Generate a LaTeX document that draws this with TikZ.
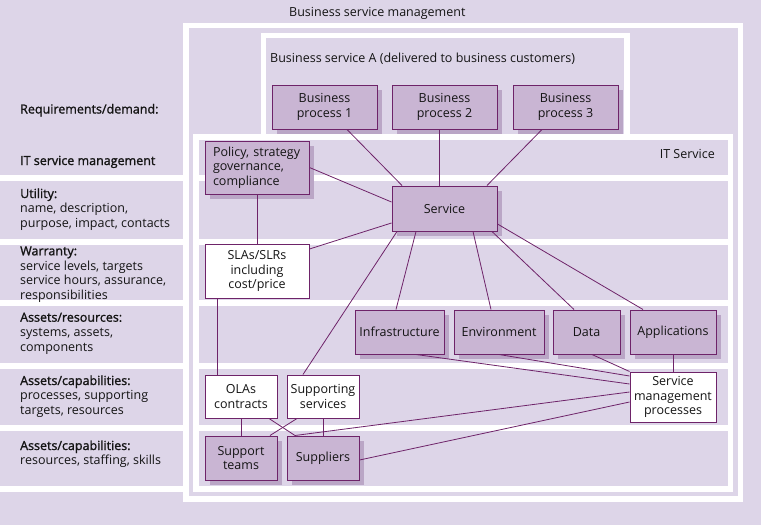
\documentclass[tikz,border=0pt]{standalone}
\usepackage{fontspec}
\setmainfont{Open Sans}
\newfontfamily\semib[FakeBold=1.4]{Open Sans}
\usetikzlibrary{shadows}
\definecolor{bg}{RGB}{221,213,232}
\definecolor{pf}{RGB}{201,181,211}
\definecolor{shc}{RGB}{186,166,198}
\definecolor{bd}{RGB}{110,35,105}
\definecolor{tx}{RGB}{20,20,20}
\tikzset{
  basebox/.style={draw=bd, line width=1pt, inner sep=0pt, align=center, text=tx,
    font=\fontsize{12.5}{14.7}\selectfont},
  pbox/.style={basebox, fill=pf,
    drop shadow={shadow xshift=5pt, shadow yshift=-5pt, fill=shc, opacity=1}},
  wbox/.style={basebox, fill=white},
  conn/.style={draw=bd, line width=0.8pt},
  lbl/.style={anchor=base west, inner sep=0pt, text=tx, font=\fontsize{12.5}{14.7}\selectfont},
}
\begin{document}
\begin{tikzpicture}[x=1pt,y=-1pt]
\useasboundingbox (0,0) rectangle (761,525);
\fill[bg] (0,0) rectangle (761,525);
% outer frame: business service management
\fill[white] (183,23) rectangle (743,502);
\fill[bg] (189,28) rectangle (738,496);
% business service A frame
\fill[white] (261,33) rectangle (630,140);
\fill[bg] (266,38) rectangle (624,134);
% IT service frame with rows
\fill[white] (193,134) rectangle (733,492);
\fill[bg] (199,140) rectangle (728,175);
\fill[bg] (199,181) rectangle (728,239);
\fill[bg] (199,245) rectangle (728,300);
\fill[bg] (199,306) rectangle (728,363);
\fill[bg] (199,369) rectangle (728,425);
\fill[bg] (199,431) rectangle (728,486);
% left column rows
\fill[white] (0,175) rectangle (183,492);
\fill[bg] (0,181) rectangle (183,239);
\fill[bg] (0,245) rectangle (183,300);
\fill[bg] (0,306) rectangle (183,363);
\fill[bg] (0,369) rectangle (183,425);
\fill[bg] (0,431) rectangle (183,486);

% titles
\node[lbl] (tbsm) at (289,16) {Business service management};
\node[lbl] (tbsa) at (270,62) {Business service A (delivered to business customers)};
\node[lbl, anchor=base east] (tits) at (715,158) {IT Service};

% left column labels
\node[lbl] (lreq) at (20,113.5) {\semib Requirements/demand:};
\node[lbl] (litsm) at (20,165) {\semib IT service management};
\node[lbl] (lutil) at (20,198) {\parbox[t]{170pt}{\raggedright{\semib Utility:}\\name, description,\\purpose, impact, contacts}};
\node[lbl] (lwar) at (20,255.3) {\parbox[t]{170pt}{\raggedright{\semib Warranty:}\\service levels, targets\\service hours, assurance,\\responsibilities}};
\node[lbl] (lres) at (20,321.7) {\parbox[t]{170pt}{\raggedright{\semib Assets/resources:}\\systems, assets,\\components}};
\node[lbl] (lcap1) at (20,385) {\parbox[t]{170pt}{\raggedright{\semib Assets/capabilities:}\\processes, supporting\\targets, resources}};
\node[lbl] (lcap2) at (20,450) {\parbox[t]{170pt}{\raggedright{\semib Assets/capabilities:}\\resources, staffing, skills}};

% boxes
\node[pbox, minimum width=105pt, minimum height=44pt] (bp1) at (324.5,107) {Business\\process 1};
\node[pbox, minimum width=105pt, minimum height=44pt] (bp2) at (444.5,107) {Business\\process 2};
\node[pbox, minimum width=105pt, minimum height=44pt] (bp3) at (565.5,107) {Business\\process 3};
\node[pbox, minimum width=104pt, minimum height=53pt, align=left, text width=88pt, inner xsep=8pt] (pol) at (257,167.5) {Policy, strategy\\governance,\\compliance};
\node[pbox, minimum width=105pt, minimum height=45pt] (svc) at (444.5,208.5) {Service};
\node[wbox, minimum width=104pt, minimum height=54pt] (sla) at (257,271) {SLAs/SLRs\\including\\cost/price};
\node[pbox, minimum width=89pt, minimum height=44pt] (inf) at (399.5,332) {Infrastructure};
\node[pbox, minimum width=90pt, minimum height=44pt] (env) at (499,332) {Environment};
\node[pbox, minimum width=67pt, minimum height=44pt] (dat) at (586.5,332) {Data};
\node[pbox, minimum width=86pt, minimum height=44pt] (app) at (673,332) {Applications};
\node[wbox, minimum width=86pt, minimum height=50pt] (smp) at (673,397) {Service\\management\\processes};
\node[wbox, minimum width=72pt, minimum height=43pt] (ola) at (241,396.5) {OLAs\\contracts};
\node[wbox, minimum width=72pt, minimum height=43pt] (sup) at (323,396.5) {Supporting\\services};
\node[pbox, minimum width=72pt, minimum height=44pt] (stm) at (241,458) {Support\\teams};
\node[pbox, minimum width=72pt, minimum height=44pt] (spl) at (323,458) {Suppliers};

% connectors
\draw[conn] ([xshift=22.5pt]bp1.south) -- ([xshift=-42.5pt]svc.north);
\draw[conn] ([xshift=-5pt]bp2.south) -- ([xshift=-5pt]svc.north);
\draw[conn] ([xshift=-23.5pt]bp3.south) -- ([xshift=42.5pt]svc.north);
\draw[conn] (pol.east) -- ([yshift=6.5pt]svc.west);
\draw[conn] ([yshift=22pt]sla.east) -- ([yshift=-14.5pt]svc.west);
\draw[conn] (pol.south) -- (sla.north);
\draw[conn] ([xshift=-40pt]sla.south) -- ([xshift=-40pt]sla.south |- ola.north);
\draw[conn] ([xshift=-47.5pt]svc.south) -- ([xshift=-20pt]sup.north);
\draw[conn] ([xshift=-28.5pt]svc.south) -- ([xshift=-3.5pt]inf.north);
\draw[conn] ([xshift=28.5pt]svc.south) -- ([xshift=-8pt]env.north);
\draw[conn] ([xshift=47.5pt]svc.south) -- ([xshift=-12.5pt]dat.north);
\draw[conn] ([yshift=-15.5pt]svc.east) -- ([xshift=-30pt]app.north);
\draw[conn] (app.south) -- (smp.north);
\draw[conn] ([xshift=5.5pt]dat.south) -- (smp.north west);
\draw[conn] (env.south) -- ([yshift=21pt]smp.west);
\draw[conn] ([xshift=16.5pt]inf.south) -- ([yshift=13pt]smp.west);
\draw[conn] ([yshift=5pt]smp.west) -- ([xshift=-28pt]spl.north);
\draw[conn] ([yshift=-5pt]smp.west) -- ([yshift=-2pt]spl.east);
\draw[conn] (ola.south) -- (stm.north);
\draw[conn] (sup.south) -- (spl.north);
\draw[conn] ([xshift=28pt]ola.south) -- ([xshift=-28pt]spl.north);
\draw[conn] ([xshift=-26pt]sup.south) -- ([xshift=29pt]stm.north);
\end{tikzpicture}
\end{document}
